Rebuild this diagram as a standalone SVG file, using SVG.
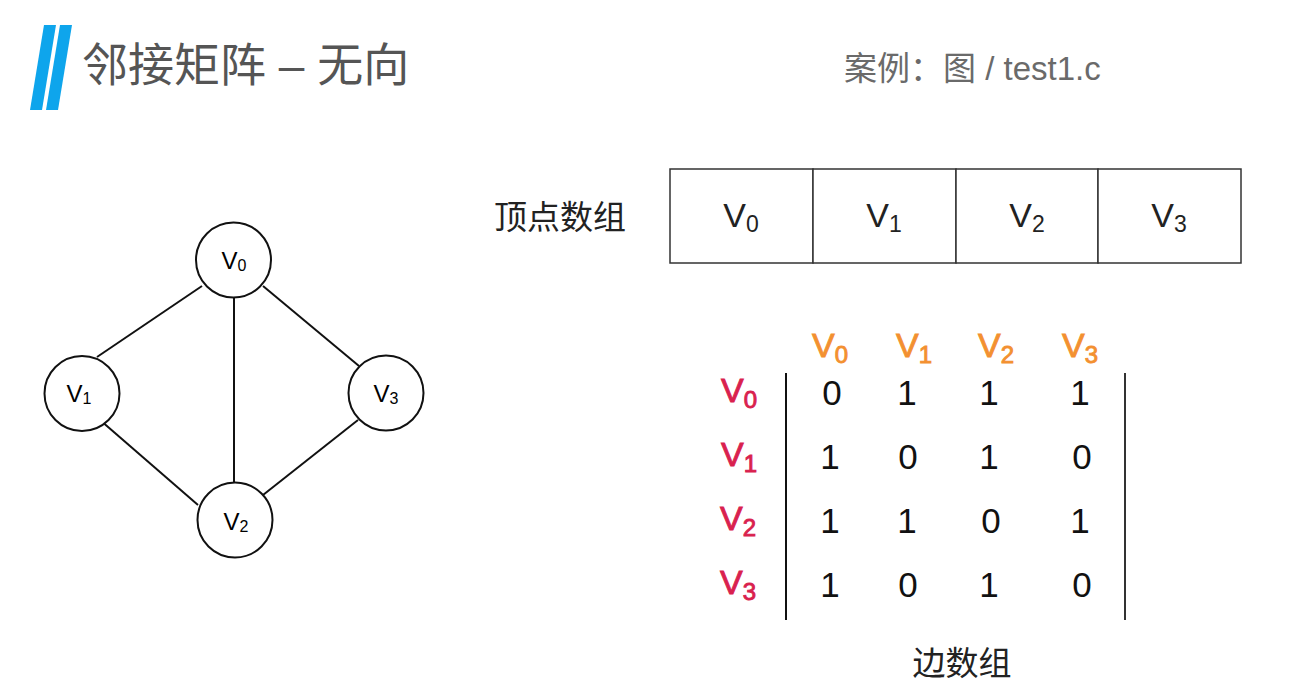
<svg xmlns="http://www.w3.org/2000/svg" width="1302" height="699" viewBox="0 0 1302 699">
<style>
.cjk{font-family:"Liberation Sans","Noto Sans CJK SC",sans-serif}
.lbl{font-family:"Liberation Sans",Arial,sans-serif}
.node circle{fill:#fff;stroke:#111;stroke-width:2}
.edge{stroke:#111;stroke-width:2;fill:none}
.cell{fill:#fff;stroke:#333;stroke-width:1.5}
.hdr{fill:#f39030;stroke:#f39030;stroke-width:0.9;font-size:34px}
.row{fill:#d9214e;stroke:#d9214e;stroke-width:0.9;font-size:34px}
.num{font-size:35px;fill:#111;text-anchor:middle}
</style>
<rect width="1302" height="699" fill="#fff"/>
<g id="logo" fill="#0ea5ec">
<polygon points="44,25 56,25 42,110 30,110"/>
<polygon points="60,25 72,25 58,110 46,110"/>
</g>
<text id="title" class="cjk" x="82" y="81" font-size="46" fill="#555">邻接矩阵 – 无向</text>
<text id="subtitle" class="cjk" x="844" y="80" font-size="33" fill="#6a6a6a">案例：图 / test1.c</text>

<g id="connectors">
<line class="edge" x1="202" y1="286" x2="97" y2="357"/>
<line class="edge" x1="263" y1="286" x2="359" y2="366"/>
<line class="edge" x1="234" y1="298" x2="234" y2="487"/>
<line class="edge" x1="100" y1="420" x2="198" y2="505"/>
<line class="edge" x1="358" y1="420" x2="263" y2="495"/>
</g>

<g id="node-v0" class="node"><circle cx="233.5" cy="260" r="37.5"/><text class="lbl" x="234" y="269" font-size="24" text-anchor="middle">V<tspan font-size="16" dy="2">0</tspan></text></g>
<g id="node-v1" class="node"><circle cx="82" cy="393.5" r="37.5"/><text class="lbl" x="79" y="402" font-size="24" text-anchor="middle">V<tspan font-size="16" dy="2">1</tspan></text></g>
<g id="node-v3" class="node"><circle cx="386" cy="393" r="37.5"/><text class="lbl" x="386" y="402" font-size="24" text-anchor="middle">V<tspan font-size="16" dy="2">3</tspan></text></g>
<g id="node-v2" class="node"><circle cx="235" cy="520" r="37.5"/><text class="lbl" x="236" y="530" font-size="24" text-anchor="middle">V<tspan font-size="16" dy="2">2</tspan></text></g>

<g id="vertex-array">
<text class="cjk" x="494" y="229" font-size="33" fill="#222">顶点数组</text>
<rect class="cell" x="670" y="169" width="143" height="94"/>
<rect class="cell" x="813" y="169" width="143" height="94"/>
<rect class="cell" x="956" y="169" width="142" height="94"/>
<rect class="cell" x="1098" y="169" width="143" height="94"/>
<g class="lbl" font-size="34" fill="#222" text-anchor="middle">
<text x="741" y="227">V<tspan font-size="23" dy="5">0</tspan></text>
<text x="884" y="227">V<tspan font-size="23" dy="5">1</tspan></text>
<text x="1027" y="227">V<tspan font-size="23" dy="5">2</tspan></text>
<text x="1169" y="227">V<tspan font-size="23" dy="5">3</tspan></text>
</g>
</g>

<g id="edge-matrix" class="lbl">
<text class="hdr" x="812" y="357">V<tspan font-size="24" dy="6">0</tspan></text>
<text class="hdr" x="896" y="357">V<tspan font-size="24" dy="6">1</tspan></text>
<text class="hdr" x="978" y="357">V<tspan font-size="24" dy="6">2</tspan></text>
<text class="hdr" x="1062" y="357">V<tspan font-size="24" dy="6">3</tspan></text>
<text class="row" x="721" y="402">V<tspan font-size="24" dy="6">0</tspan></text>
<text class="row" x="721" y="466">V<tspan font-size="24" dy="6">1</tspan></text>
<text class="row" x="720" y="530">V<tspan font-size="24" dy="6">2</tspan></text>
<text class="row" x="720" y="594">V<tspan font-size="24" dy="6">3</tspan></text>
<line x1="786" y1="373" x2="786" y2="620" stroke="#111" stroke-width="2"/>
<line x1="1125" y1="373" x2="1125" y2="620" stroke="#333" stroke-width="2"/>
<text class="num" x="832" y="405">0</text><text class="num" x="907" y="405">1</text><text class="num" x="989" y="405">1</text><text class="num" x="1080" y="405">1</text>
<text class="num" x="830" y="469">1</text><text class="num" x="908" y="469">0</text><text class="num" x="989" y="469">1</text><text class="num" x="1082" y="469">0</text>
<text class="num" x="830" y="533">1</text><text class="num" x="907" y="533">1</text><text class="num" x="991" y="533">0</text><text class="num" x="1080" y="533">1</text>
<text class="num" x="830" y="597">1</text><text class="num" x="908" y="597">0</text><text class="num" x="989" y="597">1</text><text class="num" x="1082" y="597">0</text>
<text class="cjk" x="962" y="675" font-size="33" fill="#222" text-anchor="middle">边数组</text>
</g>
</svg>
